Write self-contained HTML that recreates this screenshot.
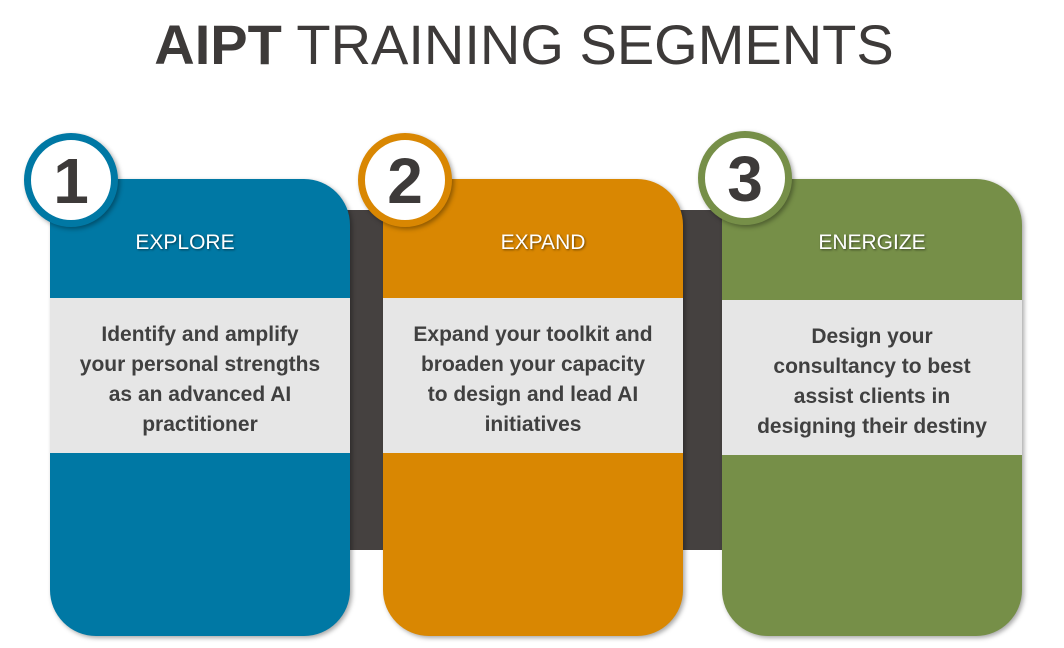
<!DOCTYPE html>
<html><head><style>
body{margin:0;width:1064px;height:648px;background:#fff;position:relative;overflow:hidden;font-family:"Liberation Sans",sans-serif}
.t{position:absolute;left:-8px;width:1064px;top:12px;text-align:center;font-size:56px;color:#3d3a39;letter-spacing:0px}
.band{position:absolute;left:340px;top:210px;width:390px;height:340px;background:#454140}
.card{position:absolute;top:179px;width:300px;height:457px;border-radius:0 46px 46px 46px;box-shadow:2px 2px 5px rgba(0,0,0,.35);overflow:hidden}
.card h3{margin:0;position:absolute;top:52px;left:0;right:0;text-align:center;color:#fff;font-size:21px;font-weight:normal;text-shadow:1px 1px 2px rgba(0,0,0,.5)}
.gray{position:absolute;left:0;right:0;top:119px;height:155px;padding-top:8px;box-sizing:border-box;background:#e6e6e6;display:flex;align-items:center;justify-content:center;text-align:center;font-size:21px;line-height:30px;color:#404040;font-weight:bold;white-space:nowrap}
.c{position:absolute;width:80px;height:80px;border-radius:50%;background:#fff;border:7px solid;text-align:center;font:bold 64px/82px "Liberation Sans",sans-serif;color:#3d3a39;box-shadow:2px 2px 5px rgba(0,0,0,.35)}
</style></head><body>
<div class="t"><b>AIPT</b> TRAINING SEGMENTS</div>
<div class="band"></div>
<div class="card" style="left:50px;background:#0078a4"><h3 style="left:-30px">EXPLORE</h3><div class="gray">Identify and amplify<br>your personal strengths<br>as an advanced AI<br>practitioner</div></div>
<div class="card" style="left:383px;background:#d98702"><h3 style="left:20px">EXPAND</h3><div class="gray">Expand your toolkit and<br>broaden your capacity<br>to design and lead AI<br>initiatives</div></div>
<div class="card" style="left:722px;background:#768f48"><h3>ENERGIZE</h3><div class="gray" style="top:121px">Design your<br>consultancy to best<br>assist clients in<br>designing their destiny</div></div>
<div class="c" style="left:24px;top:133px;border-color:#0078a4">1</div>
<div class="c" style="left:358px;top:133px;border-color:#d98702">2</div>
<div class="c" style="left:698px;top:131px;border-color:#768f48">3</div>
</body></html>
